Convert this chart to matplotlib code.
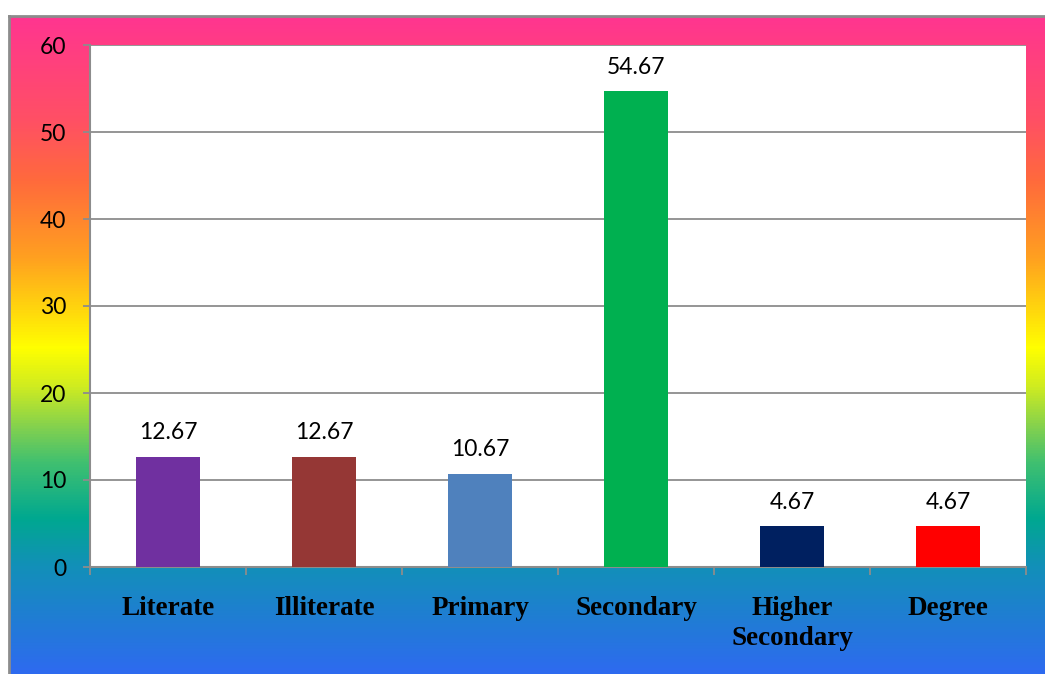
import numpy as np
import matplotlib
matplotlib.use("Agg")
import matplotlib.pyplot as plt
from matplotlib.colors import LinearSegmentedColormap

W, H = 1045, 674

categories = ["Literate", "Illiterate", "Primary", "Secondary", "Higher\nSecondary", "Degree"]
values = [12.67, 12.67, 10.67, 54.67, 4.67, 4.67]
bar_colors = ["#7030A0", "#953735", "#4F81BD", "#00B050", "#002060", "#FF0000"]
y_ticks = [0, 10, 20, 30, 40, 50, 60]

# rainbow fill behind the chart (pixel row, colour)
grad_stops = [(16, "#FF3590"), (120, "#FF5064"), (180, "#FF6A3C"), (257, "#FFA020"),
              (348, "#FFFF00"), (386, "#D0EC20"), (429, "#80D050"), (463, "#40C070"),
              (519, "#00A890"), (566, "#1290B8"), (674, "#2E6AF0"), (720, "#2E6AF0")]

fig = plt.figure(figsize=(W / 100, H / 100), dpi=100)
fig.patch.set_facecolor("white")

# background frame with gradient, running off the right and bottom edges
top, bot = grad_stops[0][0], grad_stops[-1][0]
bg = fig.add_axes([9 / W, 1 - bot / H, 1.05, (bot - top) / H])
cmap = LinearSegmentedColormap.from_list(
    "rainbow_bg", [((y - top) / (bot - top), c) for y, c in grad_stops])
bg.imshow(np.linspace(0, 1, 512).reshape(-1, 1), aspect="auto", cmap=cmap,
          extent=[0, 1, bot, top])
bg.set_xlim(0, 1)
bg.set_ylim(bot, top)
bg.set_xticks([])
bg.set_yticks([])
for s in bg.spines.values():
    s.set_color("#8C8C8C")
    s.set_linewidth(2)

# plot area
ax = fig.add_axes([90 / W, 1 - 567 / H, (1026 - 90) / W, (567 - 45) / H])
ax.set_facecolor("white")
x = np.arange(len(categories))
bars = ax.bar(x, values, width=0.404, color=bar_colors, zorder=3)

ax.set_xlim(-0.5, len(categories) - 0.5)
ax.set_ylim(0, 60)
ax.set_yticks(y_ticks)
ax.yaxis.grid(True, color="#8C8C8C", linewidth=1.3, zorder=0)
ax.set_axisbelow(True)

for s in ["top", "right"]:
    ax.spines[s].set_visible(False)
for s in ["left", "bottom"]:
    ax.spines[s].set_color("#8C8C8C")
    ax.spines[s].set_linewidth(1.5)

ax.tick_params(axis="y", length=5, width=1.3, color="#8C8C8C", pad=12,
               labelsize=16.5)
for lab in ax.get_yticklabels():
    lab.set_fontfamily("Lato")

ax.set_xticks(x)
ax.set_xticklabels(categories, fontfamily="Liberation Serif", fontweight="bold",
                   fontsize=19.5, linespacing=1.25)
ax.tick_params(axis="x", length=0, pad=21)
ax.set_xticks(np.arange(len(categories) + 1) - 0.5, minor=True)
ax.tick_params(axis="x", which="minor", length=5.8, width=1.3, color="#8C8C8C")

for b, v in zip(bars, values):
    ax.annotate(f"{v:.2f}", (b.get_x() + b.get_width() / 2, v),
                xytext=(0, 17.5), textcoords="offset points",
                ha="center", va="center", fontsize=16.5, fontfamily="Lato")

fig.savefig("out.png", dpi=100)
